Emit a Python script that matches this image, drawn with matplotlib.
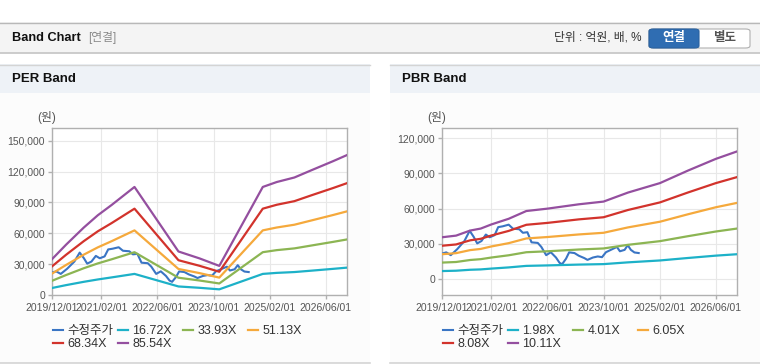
import matplotlib
matplotlib.use("Agg")
import matplotlib.pyplot as plt
from matplotlib.patches import Rectangle, FancyBboxPatch
from matplotlib.lines import Line2D
from matplotlib.ticker import FuncFormatter
import pandas as pd

plt.rcParams['font.family'] = ['Liberation Sans', 'Noto Sans CJK KR', 'DejaVu Sans']

# ---------------- data ----------------
price_dates = ["2019-12-01", "2020-01-07", "2020-02-15", "2020-04-10", "2020-06-12", "2020-07-28",
               "2020-09-01", "2020-10-01", "2020-11-07", "2020-12-15", "2021-01-18", "2021-03-01",
               "2021-04-01", "2021-05-10", "2021-07-01", "2021-08-07", "2021-10-01", "2021-11-01",
               "2021-12-10", "2022-01-15", "2022-03-10", "2022-04-10", "2022-05-22", "2022-07-01",
               "2022-08-15", "2022-09-15", "2022-10-07", "2022-11-10", "2022-12-07", "2023-01-22",
               "2023-03-01", "2023-04-18", "2023-05-15", "2023-07-01", "2023-08-12", "2023-09-18",
               "2023-10-22", "2023-12-18", "2024-01-25", "2024-02-20", "2024-04-01", "2024-04-28",
               "2024-05-25", "2024-06-25", "2024-08-01"]
price = [21800, 22900, 20500, 25500, 32500, 41200,
         36000, 30500, 32500, 38000, 35700, 37500,
         44300, 45000, 46400, 43000, 42500, 39500,
         40000, 31400, 30900, 27500, 20500, 23000,
         18500, 14000, 12800, 17500, 22900, 22300,
         20000, 18000, 16500, 18500, 19400, 18800,
         23000, 25700, 27500, 23800, 25000, 29000,
         25000, 22800, 22300]

per_dates = ["2019-12-01", "2020-04-01", "2020-09-01", "2021-01-01", "2021-05-01", "2021-11-15",
             "2022-12-01", "2023-06-01", "2023-11-20", "2024-12-01", "2025-04-01", "2025-09-01",
             "2026-02-01", "2026-08-01", "2026-12-01"]
per_labels = ["16.72X", "33.93X", "51.13X", "68.34X", "85.54X"]
per_band1 = [6800, 9600, 12800, 15100, 17100, 20500, 8300, 7000, 5500, 20500, 21500, 22300, 23700, 25400, 26600]
per_band2 = [13800, 19400, 26000, 30700, 34700, 41600, 16800, 14100, 11200, 41600, 43600, 45300, 48200, 51600, 54000]
per_band3 = [20800, 29200, 39200, 46300, 52300, 62800, 25300, 21300, 16900, 62800, 65600, 68300, 72600, 77700, 81300]
per_band4 = [27800, 39100, 52300, 61900, 69900, 83900, 33800, 28400, 22600, 83900, 87700, 91200, 97100, 103900, 108700]
per_band5 = [34800, 48900, 65500, 77500, 87500, 105000, 42300, 35600, 28300, 105000, 109800, 114200, 121500, 130000, 136000]

pbr_dates = ["2019-12-01", "2020-04-01", "2020-08-01", "2020-11-01", "2021-02-01", "2021-07-01",
             "2021-12-01", "2022-06-01", "2023-03-01", "2023-10-01", "2024-05-01", "2025-02-01",
             "2025-10-01", "2026-06-01", "2026-12-01"]
pbr_labels = ["1.98X", "4.01X", "6.05X", "8.08X", "10.11X"]
pbr_band1 = [7000, 7300, 8100, 8400, 9100, 10100, 11400, 11800, 12500, 12900, 14400, 16000, 18100, 20100, 21300]
pbr_band2 = [14200, 14700, 16400, 17100, 18500, 20400, 23000, 23800, 25300, 26200, 29300, 32400, 36600, 40600, 43100]
pbr_band3 = [21300, 22200, 24800, 25800, 27900, 30700, 34700, 35900, 38100, 39500, 44100, 48900, 55200, 61200, 64900]
pbr_band4 = [28500, 29600, 33100, 34400, 37200, 41100, 46300, 47900, 50900, 52700, 58900, 65300, 73700, 81700, 86800]
pbr_band5 = [35700, 37100, 41400, 43100, 46600, 51400, 58000, 60000, 63700, 66000, 73700, 81700, 92300, 102300, 108600]

price_label = "수정주가"
x_ticks = ["2019-12-01", "2021-02-01", "2022-06-01", "2023-10-01", "2025-02-01", "2026-06-01"]
per_yticks = [0, 30000, 60000, 90000, 120000, 150000]
pbr_yticks = [0, 30000, 60000, 90000, 120000]

colors = ['#3a75c4', '#1db1c8', '#8cb553', '#f5a93c', '#d2332c', '#944f9f']

# ---------------- figure ----------------
W, H = 760, 364
fig = plt.figure(figsize=(W / 100, H / 100), dpi=100)
fig.patch.set_facecolor('white')


def fx(x):
    return x / W


def fy(y):
    return 1 - y / H


def rect(x0, y0, x1, y1, fc, ec='none', lw=0, z=0):
    fig.add_artist(Rectangle((fx(x0), fy(y1)), fx(x1) - fx(x0), fy(y0) - fy(y1),
                             transform=fig.transFigure, facecolor=fc, edgecolor=ec, lw=lw, zorder=z))


def hline(x0, x1, y, c, lw=1.0):
    fig.add_artist(Line2D([fx(x0), fx(x1)], [fy(y), fy(y)], transform=fig.transFigure, color=c, lw=lw))


# header bar
rect(0, 22, 760, 53, '#f4f4f4')
hline(0, 760, 22.5, '#b8b8b8', 1.0)
hline(0, 760, 53, '#c4c4c4', 1.2)
fig.text(fx(12), fy(38), "Band Chart", fontsize=9.2, fontweight='bold', color='#111111', va='center', ha='left')
fig.text(fx(88), fy(38), "[연결]", fontsize=8.5, color='#8a8a8a', va='center', ha='left')
fig.text(fx(642), fy(38), "단위 : 억원, 배, %", fontsize=8.5, color='#333333', va='center', ha='right')
# buttons
fig.add_artist(FancyBboxPatch((fx(649), fy(48)), fx(750) - fx(649), fy(29) - fy(48),
                              boxstyle="round,pad=0,rounding_size=0.006", transform=fig.transFigure,
                              facecolor='white', edgecolor='#b0b0b0', lw=0.8))
fig.add_artist(FancyBboxPatch((fx(649), fy(48)), fx(699) - fx(649), fy(29) - fy(48),
                              boxstyle="round,pad=0,rounding_size=0.006", transform=fig.transFigure,
                              facecolor='#2f6db2', edgecolor='#2a62a0', lw=0.8))
fig.text(fx(674), fy(38.5), "연결", fontsize=9, fontweight='bold', color='white', va='center', ha='center')
fig.text(fx(724.5), fy(38.5), "별도", fontsize=9, fontweight='bold', color='#555555', va='center', ha='center')

# panels
for (x0, x1, title) in [(0, 370, "PER Band"), (390, 760, "PBR Band")]:
    rect(x0, 64, x1, 93, '#eef2f7')
    rect(x0, 93, x1, 363, '#fcfcfc')
    hline(x0, x1, 64.5, '#d4d4d4', 1.0)
    hline(x0, x1, 363, '#d4d4d4', 1.2)
    fig.text(fx(x0 + 12), fy(79), title, fontsize=9.5, fontweight='bold', color='#111111', va='center', ha='left')


def make_axes(left_px, ylim, yticks, band_dates, bands, labels, ylab_x):
    ax = fig.add_axes([fx(left_px), fy(295), (295) / W, (295 - 128) / H])
    ax.set_facecolor('white')
    pd_price = pd.to_datetime(price_dates)
    bd = pd.to_datetime(band_dates)
    handles = []
    h, = ax.plot(pd_price, price, color=colors[0], lw=1.5, label=price_label, zorder=3)
    handles.append(h)
    for i, (b, lab) in enumerate(zip(bands, labels)):
        h, = ax.plot(bd, b, color=colors[i + 1], lw=1.6, label=lab, zorder=3 + i)
        handles.append(h)
    ax.set_xlim(pd.Timestamp("2019-12-01"), pd.Timestamp("2026-12-01"))
    ax.set_ylim(*ylim)
    ax.set_yticks(yticks)
    ax.yaxis.set_major_formatter(FuncFormatter(lambda v, p: f"{int(v):,}"))
    xt = pd.to_datetime(x_ticks)
    ax.set_xticks(xt)
    ax.set_xticklabels([d.strftime("%Y/%m/%d") for d in xt])
    ax.grid(True, color='#e8e8e8', lw=0.8, zorder=0)
    for s in ax.spines.values():
        s.set_color('#b0b0b0')
        s.set_linewidth(1.0)
    ax.tick_params(axis='both', colors='#b0b0b0', length=3, width=1.0, labelcolor='#555555', labelsize=7.5, pad=2)
    ax.tick_params(axis='x', pad=3)
    fig.text(fx(ylab_x), fy(117), "(원)", fontsize=8.5, color='#555555', ha='center', va='center')
    # legend: fixed-width items, 4 per row
    for c in range(4):
        idx = [i for i in (c, c + 4) if i < len(handles)]
        hs = [handles[i] for i in idx]
        leg = fig.legend(hs, [h.get_label() for h in hs], loc='upper left',
                         bbox_to_anchor=(fx(left_px + 1 + 65 * c), fy(325)),
                         bbox_transform=fig.transFigure, ncol=1, frameon=False, fontsize=9,
                         handlelength=0.8, handletextpad=0.35, labelspacing=0.1,
                         borderpad=0, borderaxespad=0)
        for t in leg.get_texts():
            t.set_color('#333333')
    return ax


make_axes(52, (0, 162300), per_yticks, per_dates,
          [per_band1, per_band2, per_band3, per_band4, per_band5], per_labels, 47)
make_axes(442, (-13330, 128500), pbr_yticks, pbr_dates,
          [pbr_band1, pbr_band2, pbr_band3, pbr_band4, pbr_band5], pbr_labels, 437)

fig.savefig("out.png", dpi=100)
